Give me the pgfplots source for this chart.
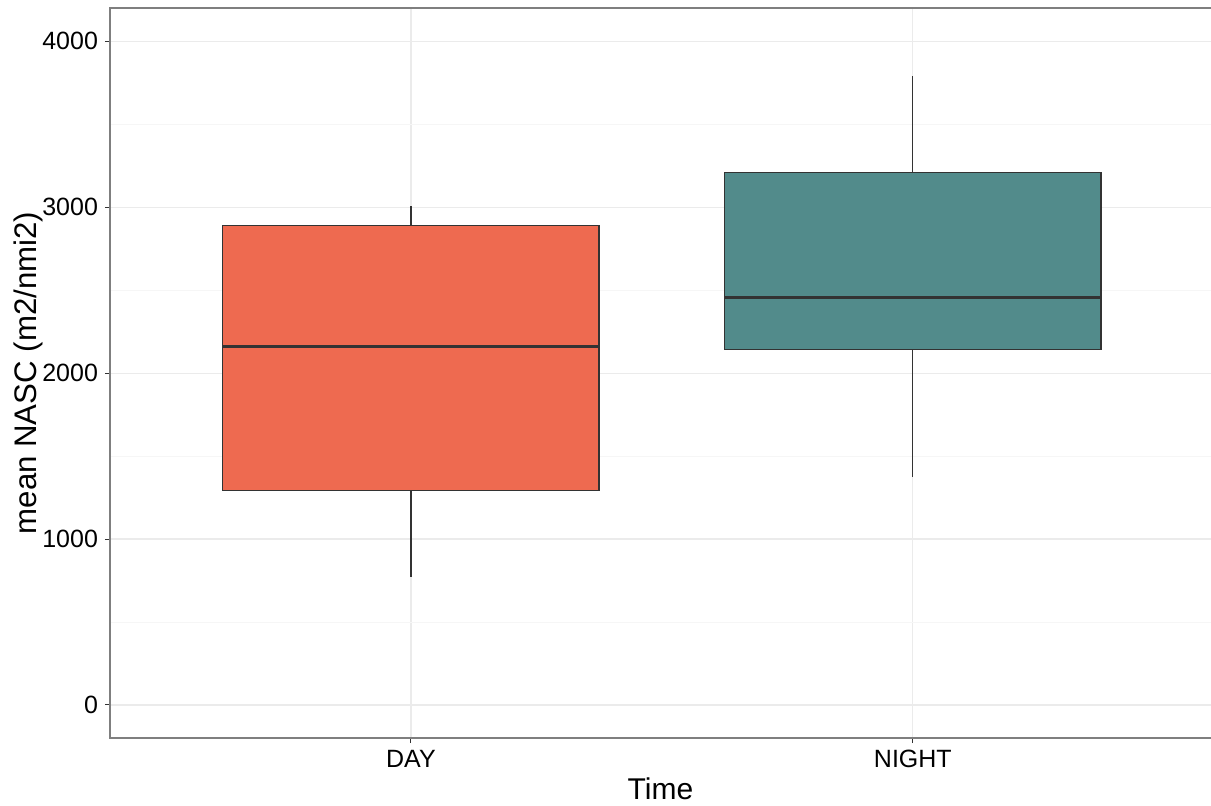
\documentclass[border=0pt]{standalone}
\usepackage{pgfplots}
\pgfplotsset{compat=1.18}
\usepackage{fontspec}
\setmainfont{Liberation Sans}
\definecolor{dayfill}{HTML}{EE6A50}
\definecolor{nightfill}{HTML}{528B8B}
\definecolor{boxline}{HTML}{333333}
\definecolor{gridmaj}{HTML}{EBEBEB}
\definecolor{gridmin}{HTML}{F6F6F6}
\definecolor{frame}{HTML}{7F7F7F}
\begin{document}
\begin{tikzpicture}
\useasboundingbox (0,0) rectangle (605.5pt,402.5pt);
\begin{axis}[
  at={(55pt,33.5pt)}, anchor=south west,
  scale only axis, width=550.5pt, height=365pt,
  xmin=0.4004, xmax=2.594, ymin=-199, ymax=4201,
  xtick={1,2}, xticklabels={DAY,NIGHT},
  ytick={0,1000,2000,3000,4000},
  minor ytick={500,1500,2500,3500},
  grid=both,
  major grid style={gridmaj, line width=0.6pt},
  minor grid style={gridmin, line width=0.4pt},
  minor tick length=0pt,
  tick align=outside, major tick length=2.5pt,
  tick style={boxline, line width=0.5pt},
  xtick pos=bottom, ytick pos=left,
  axis line style={draw=none},
  /pgf/number format/assume math mode=true,
  /pgf/number format/1000 sep={},
  ticklabel style={font=\fontsize{12.5}{14}\selectfont, text=black},
  xlabel={Time}, ylabel={mean NASC (m2/nmi2)},
  xlabel style={font=\fontsize{15}{17}\selectfont, yshift=2pt},
  ylabel style={font=\fontsize{15.6}{17}\selectfont, yshift=-7pt},
  clip=false,
  after end axis/.code={
    \draw[frame, line width=0.6pt] (rel axis cs:1,1) -- (rel axis cs:0,1) -- (rel axis cs:0,0) -- (rel axis cs:1,0);
  },
]
% whiskers
\addplot[boxline, line width=0.6pt] coordinates {(1,772) (1,1291)};
\addplot[boxline, line width=0.6pt] coordinates {(1,2890) (1,3010)};
\addplot[boxline, line width=0.6pt] coordinates {(2,1376) (2,2142)};
\addplot[boxline, line width=0.6pt] coordinates {(2,3210) (2,3789)};
% boxes
\addplot[draw=boxline, line width=0.7pt, fill=dayfill] coordinates {(0.625,1291) (1.375,1291) (1.375,2890) (0.625,2890)} --cycle;
\addplot[draw=boxline, line width=0.7pt, fill=nightfill] coordinates {(1.625,2142) (2.375,2142) (2.375,3210) (1.625,3210)} --cycle;
% medians
\addplot[boxline, line width=1.3pt] coordinates {(0.625,2160) (1.375,2160)};
\addplot[boxline, line width=1.3pt] coordinates {(1.625,2455) (2.375,2455)};
\end{axis}
\end{tikzpicture}
\end{document}
